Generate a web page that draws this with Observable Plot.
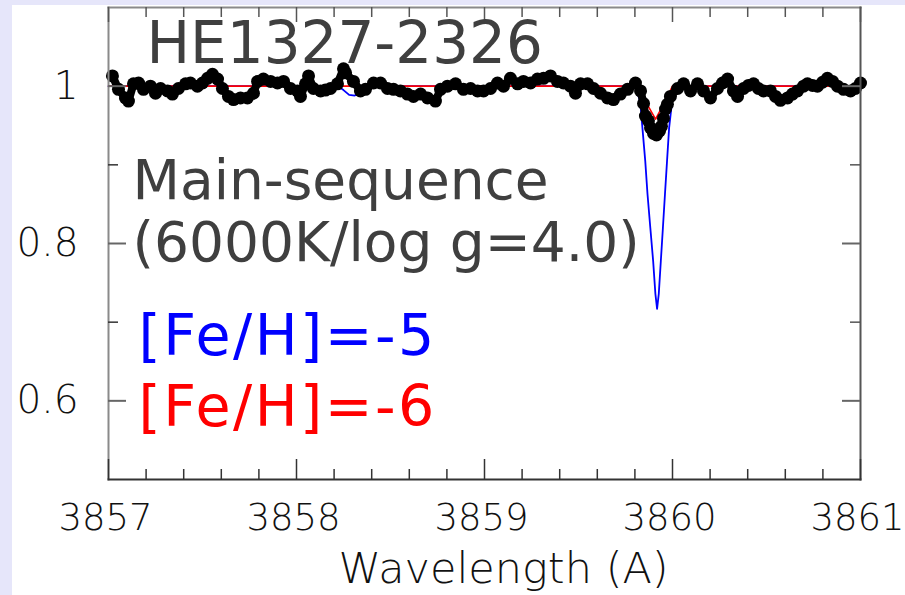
<!DOCTYPE html>
<html><head><meta charset="utf-8">
<script src="https://cdn.jsdelivr.net/npm/d3@7"></script>
<script src="https://cdn.jsdelivr.net/npm/@observablehq/plot@0.6"></script>
<style>
html,body{margin:0;padding:0;width:905px;height:595px;overflow:hidden;background:#e6e6fa;}
#panel{position:absolute;left:12px;top:5px;right:0;bottom:0;background:#fff;}
#chart{position:absolute;left:0;top:0;}
</style></head><body><div id="panel"></div><div id="chart"></div>
<script>
// Observed spectrum (black dots)
const obsWave = [3857.021,3857.053,3857.090,3857.106,3857.133,3857.160,3857.186,3857.223,3857.250,3857.277,
3857.314,3857.340,3857.372,3857.410,3857.436,3857.473,3857.500,3857.527,3857.553,3857.580,
3857.606,3857.638,3857.665,3857.702,3857.739,3857.771,3857.793,3857.824,3857.862,3857.899,
3857.931,3857.968,3858.005,3858.021,3858.048,3858.064,3858.090,3858.128,3858.154,3858.181,
3858.218,3858.250,3858.261,3858.303,3858.340,3858.367,3858.410,3858.447,3858.484,3858.516,
3858.553,3858.590,3858.622,3858.660,3858.697,3858.739,3858.766,3858.803,3858.846,3858.888,
3858.926,3858.963,3858.995,3859.032,3859.069,3859.101,3859.138,3859.176,3859.207,3859.245,
3859.282,3859.314,3859.351,3859.388,3859.420,3859.457,3859.484,3859.511,3859.548,3859.580,
3859.617,3859.654,3859.686,3859.723,3859.761,3859.803,3859.830,3859.846,3859.856,3859.872,
3859.883,3859.899,3859.915,3859.931,3859.941,3859.952,3859.963,3859.973,3859.989,3860.027,
3860.059,3860.096,3860.133,3860.165,3860.202,3860.239,3860.266,3860.293,3860.324,3860.346,
3860.378,3860.404,3860.431,3860.457,3860.484,3860.521,3860.548,3860.574,3860.612,3860.638,
3860.665,3860.697,3860.718,3860.745,3860.771,3860.798,3860.824,3860.851,3860.878,3860.910,
3860.947,3860.973,3861.000];
const obsFlux = [1.013,0.996,0.985,0.981,1.003,1.004,0.996,1.000,0.991,0.997,
0.994,0.990,0.997,1.003,1.004,1.000,1.004,1.010,1.015,1.009,
0.997,0.987,0.983,0.985,0.985,0.991,1.006,1.009,1.006,1.004,
1.006,0.997,0.994,0.987,1.003,1.013,0.997,0.994,0.995,0.997,
1.003,1.022,1.017,1.006,0.994,0.996,1.004,1.004,0.997,0.996,
0.994,0.990,0.987,0.990,0.985,0.981,0.996,1.000,1.003,0.996,
0.997,0.994,0.994,0.997,1.004,1.000,1.010,1.003,1.006,1.004,
1.009,1.010,1.013,1.006,1.004,1.000,0.991,1.003,1.003,0.997,
0.991,0.985,0.983,0.990,0.996,1.004,0.994,0.978,0.962,0.956,
0.947,0.940,0.938,0.943,0.949,0.959,0.971,0.977,0.987,0.997,
1.003,0.994,1.003,0.994,0.985,0.997,1.004,1.009,0.994,0.987,
0.997,1.001,1.003,0.997,0.994,0.994,0.987,0.982,0.985,0.990,
0.994,1.000,1.003,1.001,1.000,1.005,1.010,1.006,1.000,0.996,
0.994,0.997,1.004];

// Model [Fe/H]=-5 (blue)
const blueWave = [3857.0,3858.22,3858.25,3858.28,3858.31,3858.34,3858.37,3859.80,3859.828,3859.840,
3859.855,3859.867,3859.882,3859.897,3859.909,3859.918,3859.927,3859.938,3859.949,3859.960,
3859.971,3859.982,3859.998,3860.03,3861.0];
const blueFlux = [1.0,1.0,0.995,0.989,0.988,0.993,1.0,1.0,0.981,0.947,
0.905,0.863,0.820,0.778,0.736,0.717,0.736,0.778,0.820,0.863,
0.905,0.947,0.981,1.0,1.0];

// Model [Fe/H]=-6 (red)
const redWave = [3857.0,3859.81,3859.86,3859.91,3859.955,3860.00,3861.0];
const redFlux = [1.0,1.0,0.979,0.958,0.978,1.0,1.0];

// Axes
const xMajor = [3857,3858,3859,3860,3861];
const xMinor = [3857.2,3857.4,3857.6,3857.8,3858.2,3858.4,3858.6,3858.8,3859.2,3859.4,3859.6,3859.8,3860.2,3860.4,3860.6,3860.8];
const yMajor = [0.6,0.8,1.0];
const yMinor = [0.7,0.9];
const xLabel = "Wavelength (A)";
const title = "HE1327-2326";
const subtitle = "Main-sequence\n(6000K/log g=4.0)";
const legendLabels = ["[Fe/H]=-5","[Fe/H]=-6"];
const legendColors = ["#0000ff","#ff0000"];

const obs = obsWave.map((w,i)=>({w, f: obsFlux[i]}));
const blue = blueWave.map((w,i)=>({w, f: blueFlux[i]}));
const red = redWave.map((w,i)=>({w, f: redFlux[i]}));

const W = 905, H = 595, mt = 7, mb = 116, ml = 108, mr = 45;
const fw = W - ml - mr, fh = H - mt - mb;
const axisFont = "'DejaVu Sans', sans-serif";
const annFont = "'DejaVu Sans', sans-serif";

const plot = Plot.plot({
  width: W, height: H,
  marginTop: mt, marginBottom: mb, marginLeft: ml, marginRight: mr,
  style: {background: "transparent", overflow: "visible"},
  x: {domain: [3857, 3861], axis: null, label: null},
  y: {domain: [0.5, 1.1], axis: null, label: null},
  marks: [
    // models
    Plot.line(blue, {x: "w", y: "f", stroke: "#0000ff", strokeWidth: 1.8}),
    Plot.line(red, {x: "w", y: "f", stroke: "#ff0000", strokeWidth: 1.6}),
    // observations: beaded chain of dots
    Plot.line(obs, {x: "w", y: "f", stroke: "#000", strokeWidth: 8, strokeLinejoin: "round"}),
    Plot.dot(obs, {x: "w", y: "f", r: 6.5, fill: "#000", stroke: "none"}),
    // frame sides
    Plot.frame({anchor: "left", stroke: "#8a8a8a", strokeWidth: 2}),
    Plot.frame({anchor: "top", stroke: "#8a8a8a", strokeWidth: 2}),
    Plot.frame({anchor: "right", stroke: "#555", strokeWidth: 2}),
    Plot.frame({anchor: "bottom", stroke: "#333", strokeWidth: 2}),
    // inward ticks
    Plot.tickX(xMinor, {x: d => d, insetTop: fh - 10, stroke: "#333", strokeWidth: 1.5}),
    Plot.tickX(xMajor, {x: d => d, insetTop: fh - 20, stroke: "#333", strokeWidth: 1.5}),
    Plot.tickX(xMinor, {x: d => d, insetBottom: fh - 10, stroke: "#555", strokeWidth: 1.5}),
    Plot.tickX(xMajor, {x: d => d, insetBottom: fh - 15, stroke: "#555", strokeWidth: 1.5}),
    Plot.tickY(yMinor, {y: d => d, insetRight: fw - 10, stroke: "#333", strokeWidth: 1.5}),
    Plot.tickY(yMajor, {y: d => d, insetRight: fw - 18, stroke: "#666", strokeWidth: 2}),
    Plot.tickY(yMinor, {y: d => d, insetLeft: fw - 10, stroke: "#555", strokeWidth: 1.5}),
    Plot.tickY(yMajor, {y: d => d, insetLeft: fw - 18, stroke: "#666", strokeWidth: 2}),
    // tick labels
    Plot.axisX(xMajor, {anchor: "bottom", tickSize: 0, tickPadding: 24, tickFormat: d => String(d),
      fontSize: 37, dx: -3, fontFamily: axisFont, fontWeight: 200, fill: "#111", label: null}),
    Plot.axisY(yMajor, {anchor: "left", tickSize: 0, tickPadding: 30, tickFormat: d => String(d),
      fontSize: 39, fontFamily: axisFont, fontWeight: 200, fill: "#111", label: null}),
    // axis label
    Plot.text([xLabel], {text: d => d, frameAnchor: "bottom", lineAnchor: "top", dx: 19, dy: 73,
      fontSize: 43, fontFamily: axisFont, fontWeight: 200, fill: "#111"}),
    // annotations
    Plot.text([title], {text: d => d, frameAnchor: "top-left", textAnchor: "start", lineAnchor: "top",
      dx: 38, dy: 14, fontSize: 58, fontFamily: annFont, fill: "#3f3f3f"}),
    Plot.text([subtitle], {text: d => d, frameAnchor: "top-left", textAnchor: "start", lineAnchor: "top",
      dx: 24, dy: 147, fontSize: 55, lineHeight: 1.13, fontFamily: annFont, fill: "#3f3f3f"}),
    Plot.text([legendLabels[0]], {text: d => d, frameAnchor: "top-left", textAnchor: "start", lineAnchor: "top",
      dx: 30, dy: 307, fontSize: 57, fontFamily: annFont, fill: legendColors[0]}),
    Plot.text([legendLabels[1]], {text: d => d, frameAnchor: "top-left", textAnchor: "start", lineAnchor: "top",
      dx: 30, dy: 378, fontSize: 57, fontFamily: annFont, fill: legendColors[1]})
  ]
});
d3.select(plot).selectAll("text")
  .filter(function() { return this.textContent.startsWith("[Fe/H]"); })
  .attr("letter-spacing", "2.5px");
document.getElementById("chart").appendChild(plot);
</script></body></html>
